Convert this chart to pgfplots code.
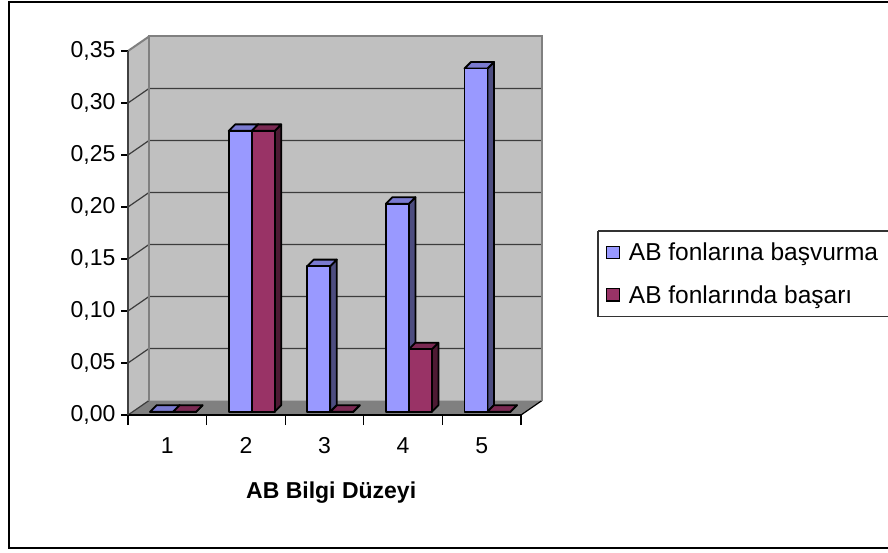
\documentclass[border=0pt]{standalone}
\usepackage{pgfplots}
\pgfplotsset{compat=1.18}
\usepackage{pgfplotstable}
\usepackage{fontspec}
\setmainfont{Liberation Sans}
\definecolor{wallgray}{RGB}{192,192,192}
\definecolor{floorgray}{RGB}{128,128,128}
\definecolor{gridc}{RGB}{60,60,60}
\definecolor{borderc}{RGB}{128,128,128}
\definecolor{blueF}{RGB}{153,153,255}
\definecolor{blueT}{RGB}{122,122,208}
\definecolor{blueS}{RGB}{77,77,128}
\definecolor{marF}{RGB}{153,51,102}
\definecolor{marT}{RGB}{122,41,82}
\definecolor{marS}{RGB}{77,26,51}
\pgfdeclareplotmark{none3d}{}
\pgfplotstableread{
x v
1 0
2 0.27
3 0.14
4 0.20
5 0.33
}\basvurma
\pgfplotstableread{
x v
1 0
2 0.27
3 0
4 0.06
5 0
}\basari
\newcommand\bigfont{\fontsize{23}{27}\selectfont}
\newcommand\legfont{\fontsize{24.5}{29}\selectfont}
\newcommand\bk[2]{([xshift=21pt,yshift=14.5pt]axis cs:#1,#2)}
\pgfplotsset{
  box3d/.style n args={4}{scatter, only marks, mark=none3d, forget plot,
    point meta=y, point meta min=0, point meta max=1,
    scatter/@pre marker code/.code={%
      \pgfmathsetmacro\yt{3.3}%
      \pgfmathsetmacro\ytb{9.8}%
      \pgfmathsetmacro\yb{3.3-\pgfplotspointmetatransformed*1.04}%
      \pgfmathsetmacro\ybb{9.8-\pgfplotspointmetatransformed*1.04}%
      \pgfmathsetmacro\xl{#1+5.8}%
      \pgfmathsetmacro\xr{#1+28.8}%
      \pgfmathsetmacro\xlb{#1+12.3}%
      \pgfmathsetmacro\xrb{#1+35.3}%
      \filldraw[fill=#4, draw=black, line width=1.8pt, line join=round] (\xr pt,\yt pt) -- (\xrb pt,\ytb pt) -- (\xrb pt,\ybb pt) -- (\xr pt,\yb pt) -- cycle;
      \filldraw[fill=#3, draw=black, line width=1.8pt, line join=round] (\xl pt,\yt pt) -- (\xlb pt,\ytb pt) -- (\xrb pt,\ytb pt) -- (\xr pt,\yt pt) -- cycle;
      \filldraw[fill=#2, draw=black, line width=1.8pt, line join=round] (\xl pt,\yt pt) rectangle (\xr pt,\yb pt);
    },
    scatter/@post marker code/.code={}
  }
}
\begin{document}
\begin{tikzpicture}[x=1pt,y=1pt]
\path[use as bounding box, clip] (0,0) rectangle (888,552);
\fill[white] (0,0) rectangle (888,552);
\begin{axis}[
  at={(128pt,137pt)}, anchor=south west,
  scale only axis, width=393pt, height=364pt,
  xmin=0.5, xmax=5.5, ymin=0, ymax=0.35,
  clip=false, axis on top,
  axis x line=bottom, axis y line=left,
  every outer x axis line/.style={}, every outer y axis line/.style={},
  x axis line style={-, line width=1.3pt, black},
  y axis line style={-, line width=1.3pt, black!75},
  tick align=outside,
  xtick={1,2,3,4,5}, xticklabels={1,2,3,4,5},
  major x tick style={draw=none},
  minor xtick={0.5,1.5,2.5,3.5,4.5,5.5},
  minor tick length=10pt,
  minor x tick style={black, line width=1.1pt},
  ytick={0,0.05,0.1,0.15,0.2,0.25,0.3,0.35},
  major tick length=7pt,
  y tick style={black, line width=1.1pt},
  scaled y ticks=false,
  tick label style={font=\bigfont},
  y tick label style={xshift=-2pt, /pgf/number format/.cd, fixed, fixed zerofill, precision=2, use comma, assume math mode=true},
  x tick label style={yshift=-12pt, /pgf/number format/assume math mode=true},
  xlabel={AB Bilgi Düzeyi},
  xlabel style={font=\bigfont\bfseries, at={(axis description cs:0.517,-0.214)}, anchor=center},
  legend style={at={(1.196,0.5055)}, anchor=north west, draw=none, fill=none, font=\legfont, inner xsep=8pt, inner ysep=10pt, row sep=19pt,
    /tikz/every odd column/.append style={column sep=7pt}},
  legend cell align=left,
]
% walls and floor
\fill[wallgray] \bk{0.5}{0} rectangle \bk{5.5}{0.35};
\fill[wallgray] (axis cs:0.5,0) -- (axis cs:0.5,0.35) -- \bk{0.5}{0.35} -- \bk{0.5}{0} -- cycle;
\fill[floorgray] (axis cs:0.5,0) -- (axis cs:5.5,0) -- \bk{5.5}{0} -- \bk{0.5}{0} -- cycle;
\pgfplotsinvokeforeach{0.05,0.1,0.15,0.2,0.25,0.3}{
  \draw[gridc, line width=1.2pt] (axis cs:0.5,#1) -- \bk{0.5}{#1} -- \bk{5.5}{#1};
}
\draw[gridc, line width=1.2pt] (axis cs:0.5,0) -- \bk{0.5}{0};
\draw[black, line width=1.2pt] (axis cs:5.5,0) -- \bk{5.5}{0};
\draw[borderc, line width=2pt] \bk{0.5}{0} -- \bk{0.5}{0.35} -- \bk{5.5}{0.35} -- \bk{5.5}{0};
\draw[borderc, line width=2pt] (axis cs:0.5,0.35) -- \bk{0.5}{0.35};
% bars
\addplot[box3d={-23}{blueF}{blueT}{blueS}] table[x=x,y=v] {\basvurma};
\addplot[box3d={0}{marF}{marT}{marS}] table[x=x,y=v] {\basari};
% legend
\addlegendimage{legend image code/.code={\draw[fill=blueF,line width=1.2pt] (0pt,-6pt) rectangle (12.5pt,6.5pt);}}
\addlegendentry{AB fonlarına başvurma}
\addlegendimage{legend image code/.code={\draw[fill=marF,line width=1.2pt] (0pt,-6pt) rectangle (12.5pt,6.5pt);}}
\addlegendentry{AB fonlarında başarı}
\end{axis}
\draw[line width=1.2pt, black!80] (598,321) -- (900,321) (598,235.3) -- (900,235.3) (598,321) -- (598,235.3);
\draw[line width=2pt] (900,549.5) -- (9,549.5) -- (9,4.5) -- (900,4.5);
\end{tikzpicture}
\end{document}
